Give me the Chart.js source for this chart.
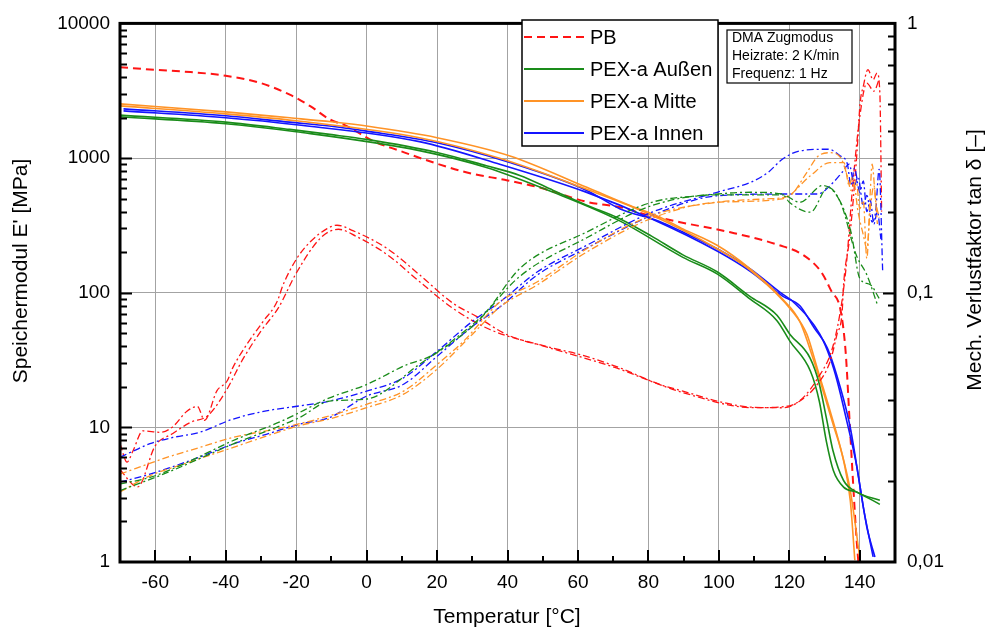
<!DOCTYPE html>
<html>
<head>
<meta charset="utf-8">
<title>DMA PB / PEX-a</title>
<script src="https://cdn.jsdelivr.net/npm/chart.js@4.4.1/dist/chart.umd.min.js"></script>
<style>
  html, body { margin: 0; padding: 0; background: #fff; }
</style>
</head>
<body>
<canvas id="dma" width="986" height="627"></canvas>
<script>
// ---- data (temperature in °C) ----
// Speichermodul E' [MPa]
const pbModT = [-70, -60, -50, -40, -30, -21.8, -16, -10.4, -5.6, 1.8, 9.5, 19, 28.5, 40, 49, 63, 72, 80, 89, 103, 117, 124, 129, 132, 134.5, 136, 137.3, 139, 139.6];
const pbModE = [4730, 4520, 4350, 4085, 3600, 2957, 2428, 1934, 1728, 1340, 1130, 926, 781, 682, 605, 470, 431, 377, 334, 282, 226, 190, 143, 102, 75, 36, 9, 1.6, 1.0];

const aussenModT1 = [-70, -40, -21.8, -10.5, 0, 20, 34, 43.5, 53, 62.5, 72, 81, 89.8, 99.5, 108.8, 116.5, 120.2, 125.9, 128.5, 130.5, 132.4, 135.4, 139.2, 145.7];
const aussenModE1 = [2084, 1849, 1632, 1498, 1376, 1100, 876, 743, 575, 446, 353, 262, 191, 143, 94, 68, 49, 32.7, 21, 11.8, 6.7, 4.03, 3.3, 2.87];
const aussenModT2 = [-70, -40, -20, 15, 34, 53, 72, 89.8, 99.5, 108.8, 116.5, 120.2, 126, 128.5, 130.5, 132.5, 135.4, 139.2, 145.7];
const aussenModE2 = [2025, 1800, 1569, 1136, 851, 556, 340, 183, 138, 90, 62, 43.5, 26.1, 15.7, 7.9, 4.78, 3.6, 3.3, 2.68];

const mitteModT1 = [-70, -40, -21.8, -10, 0, 20, 40.7, 62.5, 74.8, 83.3, 89.8, 99.5, 108.8, 118.2, 123, 126.7, 129.6, 132.4, 135.4, 137.3, 138.6];
const mitteModE1 = [2525, 2203, 1990, 1858, 1728, 1417, 1037, 606, 444, 364, 298, 225, 151, 89, 61, 32.7, 18.6, 10.6, 5.66, 2.87, 1.03];
const mitteModT2 = [-70, -40, -20, 15, 38, 62.5, 81, 99.5, 108.8, 121, 125, 127.9, 131.6, 134.5, 137.3, 140.1];
const mitteModE2 = [2441, 2130, 1891, 1416, 992, 586, 376, 212, 148, 72, 49, 27.6, 13.2, 7.1, 3.4, 1.03];

const innenModT1 = [-69, -40, -21.8, -10.5, 0, 20, 40.7, 62.5, 72, 83, 89.8, 99.5, 108.8, 118.2, 121, 128.7, 131.6, 133.6, 136.5, 139.2, 141, 143.8];
const innenModE1 = [2319, 2060, 1847, 1728, 1584, 1300, 926, 575, 419, 340, 282, 212, 151, 97, 86, 49, 32.7, 22, 10.6, 5.05, 2.56, 1.09];
const innenModT2 = [-69, -40, -20, 15, 38, 62.5, 81, 99.5, 108.8, 118.2, 123, 127, 130.8, 134.5, 137.3, 140.1, 142, 144.3];
const innenModE2 = [2242, 1991, 1767, 1324, 896, 556, 353, 204, 145, 94, 80, 55, 38.8, 19.7, 9.97, 3.6, 1.82, 1.09];

// Verlustfaktor tan delta [-]
const pbTanT1 = [-70, -68, -66.3, -63.5, -58.5, -55, -51, -48, -46, -42.5, -39.6, -38, -34, -29.4, -25.4, -23.7, -19.8, -16.1, -11.2, -8.4, -3.9, 5.8, 15.2, 24.5, 31.3, 39.9, 52.9, 60.6, 71.9, 83.3, 89.8, 99.5, 108.8, 118.2, 123, 127.9, 131.6, 133.5, 135, 135.4, 137.2, 139.2, 140.1, 141, 142.3, 143.8, 144.9, 145.7, 146.2];
const pbTanV1 = [0.0275, 0.0235, 0.0259, 0.0307, 0.0303, 0.0318, 0.0363, 0.0378, 0.0336, 0.0432, 0.047, 0.0526, 0.0643, 0.0781, 0.0927, 0.107, 0.134, 0.154, 0.173, 0.178, 0.170, 0.146, 0.116, 0.0914, 0.0815, 0.0698, 0.0623, 0.0589, 0.0526, 0.0456, 0.0431, 0.0396, 0.0376, 0.0374, 0.0396, 0.0456, 0.0556, 0.0698, 0.085, 0.107, 0.163, 0.331, 0.507, 0.584, 0.673, 0.618, 0.654, 0.552, 0.2];
const pbTanT2 = [-70, -65, -60, -55, -50, -45, -40, -35, -30, -25, -20, -13, -8, -3, 6, 15, 24.5, 35, 50, 70, 90, 110, 120, 128, 133, 136, 138, 140, 142, 144, 145.5];
const pbTanV2 = [0.022, 0.019, 0.027, 0.03, 0.033, 0.035, 0.043, 0.057, 0.072, 0.088, 0.118, 0.160, 0.172, 0.162, 0.138, 0.11, 0.0875, 0.073, 0.0635, 0.053, 0.0425, 0.0374, 0.038, 0.048, 0.068, 0.12, 0.25, 0.45, 0.6, 0.56, 0.62];

const aussenTanT1 = [-70, -61.5, -52, -38, -24, -10.5, 0, 11.5, 18, 26.5, 34, 43.5, 62.5, 81, 94.5, 109, 118, 120, 126, 131, 133.5, 137.5, 140, 143, 145.5];
const aussenTanV1 = [0.0195, 0.0206, 0.0231, 0.0282, 0.0334, 0.0407, 0.0456, 0.0541, 0.058, 0.0698, 0.0851, 0.123, 0.168, 0.2167, 0.229, 0.236, 0.2325, 0.2167, 0.199, 0.246, 0.230, 0.168, 0.113, 0.107, 0.0953];
const aussenTanT2 = [-70, -56.5, -38, -19, -10.5, 0, 15, 30, 43.5, 62.5, 81, 99.5, 118, 123, 129.5, 134.5, 139, 142, 145];
const aussenTanV2 = [0.0184, 0.0215, 0.0274, 0.0344, 0.0396, 0.0403, 0.0542, 0.0749, 0.115, 0.16, 0.2107, 0.231, 0.231, 0.2167, 0.250, 0.2167, 0.138, 0.1165, 0.0903];

const mitteTanT1 = [-70, -56.5, -47.5, -38, -23.5, -10.5, 0, 10.5, 20, 27.5, 38, 48.5, 62.5, 81, 99.5, 113.5, 120, 125, 128, 131.5, 134.5, 136.5, 137.5, 139, 140, 141, 142, 143, 143.5, 144.5, 145.5];
const mitteTanV1 = [0.0212, 0.0245, 0.0266, 0.029, 0.0316, 0.0349, 0.0385, 0.0431, 0.0541, 0.066, 0.0927, 0.1098, 0.1457, 0.1935, 0.2167, 0.223, 0.229, 0.28, 0.32, 0.331, 0.318, 0.27, 0.24, 0.26, 0.205, 0.22, 0.134, 0.24, 0.30, 0.22, 0.19];
const mitteTanT2 = [-70, -61.5, -52, -38, -19, -10.5, 0, 10.5, 20, 30, 38, 48.5, 62.5, 81, 99.5, 118, 126, 131.5, 135.5, 137, 138, 139.5, 141, 142, 143, 144, 145];
const mitteTanV2 = [0.0182, 0.0209, 0.0231, 0.0266, 0.0321, 0.034, 0.0374, 0.042, 0.052, 0.07, 0.0888, 0.107, 0.1416, 0.189, 0.2167, 0.223, 0.272, 0.304, 0.304, 0.25, 0.27, 0.2, 0.164, 0.146, 0.205, 0.25, 0.18];

const innenTanT1 = [-70, -66, -61.5, -55, -47.5, -38, -28.5, -19, -10.5, 0, 10.5, 20, 30, 38, 48.5, 62.5, 81, 99.5, 109, 114, 118, 123, 131, 134.5, 136.5, 137.5, 138.5, 140, 141, 142, 143, 144, 145, 146];
const innenTanV1 = [0.0245, 0.0259, 0.0275, 0.029, 0.0303, 0.0339, 0.0364, 0.038, 0.0396, 0.0431, 0.0483, 0.0606, 0.0782, 0.0927, 0.1196, 0.15, 0.199, 0.236, 0.257, 0.280, 0.313, 0.336, 0.341, 0.322, 0.30, 0.25, 0.29, 0.236, 0.26, 0.20, 0.22, 0.18, 0.2, 0.158];
const innenTanT2 = [-70, -61.5, -47.5, -38, -28.5, -19, -10.5, 0, 10.5, 20, 30, 38, 48.5, 62.5, 81, 99.5, 118, 128, 132.5, 135, 137, 138.5, 139.5, 141, 142, 143.5, 144.5, 145.5, 146.5];
const innenTanV2 = [0.0198, 0.0212, 0.0245, 0.0274, 0.0298, 0.0325, 0.0344, 0.0413, 0.0457, 0.058, 0.0749, 0.0888, 0.1165, 0.1465, 0.1935, 0.229, 0.2325, 0.2325, 0.257, 0.28, 0.30, 0.25, 0.27, 0.21, 0.23, 0.183, 0.2, 0.287, 0.12];

// ---- axes / labels ----
const xTicks = [-60, -40, -20, 0, 20, 40, 60, 80, 100, 120, 140];
const modTicks = [1, 10, 100, 1000, 10000];
const tanTicks = [0.01, 0.1, 1];
const legendLabels = ['PB', 'PEX-a Außen', 'PEX-a Mitte', 'PEX-a Innen'];
const infoLines = ['DMA Zugmodus', 'Heizrate: 2 K/min', 'Frequenz: 1 Hz'];

const RED = '#ff1414', GREEN = '#1a8c1a', ORANGE = '#ff9326', BLUE = '#1414ff';
const FONT = "'Liberation Sans', Arial, sans-serif";
const DASH = [8, 5];
const DASHDOT = [7, 3, 2, 3];

function pts(xs, ys) {
  return xs.map((x, i) => ({ x: x, y: ys[i] }));
}

function modLine(xs, ys, color, dash) {
  return { data: pts(xs, ys), borderColor: color, borderWidth: dash ? 2 : 1.6, borderDash: dash || [], yAxisID: 'y' };
}

function tanLine(xs, ys, color) {
  return { data: pts(xs, ys), borderColor: color, borderWidth: 1.3, borderDash: DASHDOT, yAxisID: 'y2' };
}

const datasets = [
  tanLine(aussenTanT1, aussenTanV1, GREEN),
  tanLine(aussenTanT2, aussenTanV2, GREEN),
  tanLine(mitteTanT1, mitteTanV1, ORANGE),
  tanLine(mitteTanT2, mitteTanV2, ORANGE),
  tanLine(innenTanT1, innenTanV1, BLUE),
  tanLine(innenTanT2, innenTanV2, BLUE),
  tanLine(pbTanT1, pbTanV1, RED),
  tanLine(pbTanT2, pbTanV2, RED),
  modLine(aussenModT1, aussenModE1, GREEN),
  modLine(aussenModT2, aussenModE2, GREEN),
  modLine(mitteModT1, mitteModE1, ORANGE),
  modLine(mitteModT2, mitteModE2, ORANGE),
  modLine(innenModT1, innenModE1, BLUE),
  modLine(innenModT2, innenModE2, BLUE),
  modLine(pbModT, pbModE, RED, DASH),
];

const legendStyle = [
  { color: RED, dash: DASH },
  { color: GREEN, dash: [] },
  { color: ORANGE, dash: [] },
  { color: BLUE, dash: [] },
];

// frame, inward tick marks, titles, legend and info box
const decorPlugin = {
  id: 'decor',
  afterDatasetsDraw(chart) {
    const { ctx, chartArea: a, scales } = chart;
    const sx = scales.x, sy = scales.y, sy2 = scales.y2;
    ctx.save();
    ctx.strokeStyle = '#000';
    ctx.lineWidth = 2;
    ctx.beginPath();
    for (let t = -60; t <= 140; t += 10) {
      const px = Math.round(sx.getPixelForValue(t));
      const len = t % 20 === 0 ? 12 : 6;
      ctx.moveTo(px, a.bottom);
      ctx.lineTo(px, a.bottom - len);
    }
    for (let d = 1; d < 10000; d *= 10) {
      for (let m = 1; m < 10; m++) {
        if (d * m === 1) continue;
        const py = Math.round(sy.getPixelForValue(d * m)) + 0.5;
        const len = m === 1 ? 12 : 7;
        ctx.moveTo(a.left, py);
        ctx.lineTo(a.left + len, py);
      }
    }
    for (let d = 0.01; d < 0.99; d *= 10) {
      for (let m = 1; m < 10; m++) {
        if (Math.abs(d * m - 0.01) < 1e-9) continue;
        const py = Math.round(sy2.getPixelForValue(d * m)) + 0.5;
        const len = m === 1 ? 12 : 7;
        ctx.moveTo(a.right, py);
        ctx.lineTo(a.right - len, py);
      }
    }
    ctx.stroke();

    ctx.lineWidth = 3;
    ctx.strokeRect(a.left, a.top, a.right - a.left, a.bottom - a.top);

    // legend
    ctx.fillStyle = '#fff';
    ctx.fillRect(522, 20, 196, 126);
    ctx.lineWidth = 1.5;
    ctx.strokeStyle = '#000';
    ctx.strokeRect(522, 20, 196, 126);
    ctx.font = '20px ' + FONT;
    ctx.textBaseline = 'middle';
    legendLabels.forEach((lab, i) => {
      const yy = 37 + i * 32;
      ctx.strokeStyle = legendStyle[i].color;
      ctx.lineWidth = 2;
      ctx.setLineDash(legendStyle[i].dash);
      ctx.beginPath();
      ctx.moveTo(524, yy);
      ctx.lineTo(584, yy);
      ctx.stroke();
      ctx.setLineDash([]);
      ctx.fillStyle = '#000';
      ctx.fillText(lab, 590, yy + 1);
    });

    // info box
    ctx.fillStyle = '#fff';
    ctx.fillRect(727, 30, 125, 53);
    ctx.strokeStyle = '#000';
    ctx.lineWidth = 1.2;
    ctx.strokeRect(727, 30, 125, 53);
    ctx.fillStyle = '#000';
    ctx.font = '14px ' + FONT;
    infoLines.forEach((t, i) => ctx.fillText(t, 732, 38.5 + i * 18));

    // axis titles
    ctx.font = '21px ' + FONT;
    ctx.textAlign = 'center';
    ctx.textBaseline = 'alphabetic';
    ctx.fillText('Temperatur [°C]', 507, 623);
    ctx.save();
    ctx.translate(27, 271);
    ctx.rotate(-Math.PI / 2);
    ctx.fillText("Speichermodul E' [MPa]", 0, 0);
    ctx.restore();
    ctx.save();
    ctx.translate(981, 260);
    ctx.rotate(-Math.PI / 2);
    ctx.fillText('Mech. Verlustfaktor tan δ [–]', 0, 0);
    ctx.restore();
    ctx.restore();
  }
};

const tickFont = { family: FONT, size: 19 };

new Chart(document.getElementById('dma'), {
  type: 'scatter',
  data: { datasets: datasets },
  options: {
    responsive: false,
    animation: false,
    devicePixelRatio: 1,
    showLine: true,
    layout: { padding: { top: 20, left: 0, right: 0, bottom: 0 } },
    elements: { point: { radius: 0 }, line: { cubicInterpolationMode: 'monotone' } },
    plugins: { legend: { display: false }, tooltip: { enabled: false } },
    scales: {
      x: {
        type: 'linear',
        min: -70,
        max: 150,
        afterBuildTicks: (s) => { s.ticks = xTicks.map(v => ({ value: v })); },
        afterFit: (s) => { s.height = 65; },
        ticks: { font: tickFont, color: '#000', padding: 9, maxRotation: 0, autoSkip: false, callback: (v) => String(v) },
        grid: { color: '#a3a3a3', lineWidth: 1, drawTicks: false },
        border: { display: false },
      },
      y: {
        type: 'logarithmic',
        position: 'left',
        min: 1,
        max: 10000,
        afterBuildTicks: (s) => { s.ticks = modTicks.map(v => ({ value: v })); },
        afterFit: (s) => { s.width = 120; },
        ticks: { font: tickFont, color: '#000', padding: 10, callback: (v) => String(v) },
        grid: { color: '#a3a3a3', lineWidth: 1, drawTicks: false },
        border: { display: false },
      },
      y2: {
        type: 'logarithmic',
        position: 'right',
        min: 0.01,
        max: 1,
        afterBuildTicks: (s) => { s.ticks = tanTicks.map(v => ({ value: v })); },
        afterFit: (s) => { s.width = 91; },
        ticks: { font: tickFont, color: '#000', padding: 12, callback: (v) => String(v).replace('.', ',') },
        grid: { display: false, drawTicks: false },
        border: { display: false },
      },
    },
  },
  plugins: [decorPlugin],
});
</script>
</body>
</html>
